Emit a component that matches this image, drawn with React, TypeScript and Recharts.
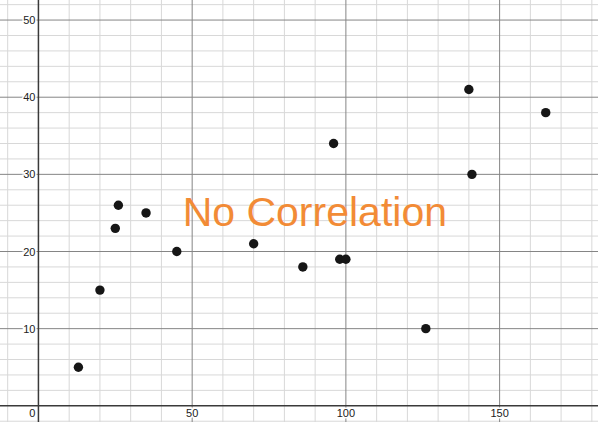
import { ScatterChart, Scatter, XAxis, YAxis, ReferenceLine, ReferenceDot } from 'recharts';

const xs = [13, 20, 25, 26, 35, 45, 70, 86, 96, 98, 100, 126, 140, 141, 165];
const ys = [5, 15, 23, 26, 25, 20, 21, 18, 34, 19, 19, 10, 41, 30, 38];

const xMinor = [-10, 10, 20, 30, 40, 60, 70, 80, 90, 110, 120, 130, 140, 160, 170, 180];
const xMajor = [50, 100, 150];
const yMinor = [-2, 2, 4, 6, 8, 12, 14, 16, 18, 22, 24, 26, 28, 32, 34, 36, 38, 42, 44, 46, 48, 52];
const yMajor = [10, 20, 30, 40, 50];

const xTicks = [50, 100, 150];
const yTicks = [10, 20, 30, 40, 50];

const title = 'No Correlation';
const titleAt = { x: 89.9, y: 23.3 };

const points = xs.map((x, i) => ({ x, y: ys[i] }));

const FONT = '"Liberation Sans", Arial, sans-serif';

// label drawn relative to a zero-size reference dot
const tickLabel = (text: string, anchor: 'start' | 'middle' | 'end', dx: number, dy: number) =>
  (props: any) => {
    const vb = props.viewBox || {};
    return (
      <text
        x={vb.x + dx}
        y={vb.y + dy}
        textAnchor={anchor}
        fontFamily={FONT}
        fontSize={11}
        fill="#222"
        stroke="#fff"
        strokeWidth={3}
        paintOrder="stroke"
      >
        {text}
      </text>
    );
  };

const titleLabel = (props: any) => {
  const vb = props.viewBox || {};
  return (
    <text x={vb.x} y={vb.y} textAnchor="middle" fontFamily={FONT} fontSize={41} fill="#f28b36">
      {title}
    </text>
  );
};

export default function App() {
  return (
    <div style={{ position: 'absolute', left: 0, top: 0, background: '#fff' }}>
      <ScatterChart width={598} height={422} margin={{ top: 0, right: 0, bottom: 0, left: 0 }}>
        <XAxis type="number" dataKey="x" domain={[-12.5, 182]} hide allowDataOverflow />
        <YAxis type="number" dataKey="y" domain={[-2.1, 52.6]} hide allowDataOverflow />

        {/* minor grid */}
        {xMinor.map((v) => (
          <ReferenceLine key={'xm' + v} x={v} stroke="#d8d8d8" strokeWidth={1} />
        ))}
        {yMinor.map((v) => (
          <ReferenceLine key={'ym' + v} y={v} stroke="#d8d8d8" strokeWidth={1} />
        ))}

        {/* major grid */}
        {xMajor.map((v) => (
          <ReferenceLine key={'xM' + v} x={v} stroke="#858585" strokeWidth={1} />
        ))}
        {yMajor.map((v) => (
          <ReferenceLine key={'yM' + v} y={v} stroke="#858585" strokeWidth={1} />
        ))}

        {/* axes */}
        <ReferenceLine x={0} stroke="#3a3a3a" strokeWidth={1.5} />
        <ReferenceLine y={0} stroke="#3a3a3a" strokeWidth={1.5} />

        <Scatter
          data={points}
          isAnimationActive={false}
          shape={(p: any) => <circle cx={p.cx} cy={p.cy} r={4.7} fill="#161616" />}
        />

        {yTicks.map((v) => (
          <ReferenceDot key={'yl' + v} x={0} y={v} r={0} fill="none" stroke="none" label={tickLabel(String(v), 'end', -3, 4)} />
        ))}
        {xTicks.map((v) => (
          <ReferenceDot key={'xl' + v} x={v} y={0} r={0} fill="none" stroke="none" label={tickLabel(String(v), 'middle', 0, 11.5)} />
        ))}
        <ReferenceDot x={0} y={0} r={0} fill="none" stroke="none" label={tickLabel('0', 'end', -3, 11.5)} />

        <ReferenceDot x={titleAt.x} y={titleAt.y} r={0} fill="none" stroke="none" label={titleLabel} />
      </ScatterChart>
    </div>
  );
}
